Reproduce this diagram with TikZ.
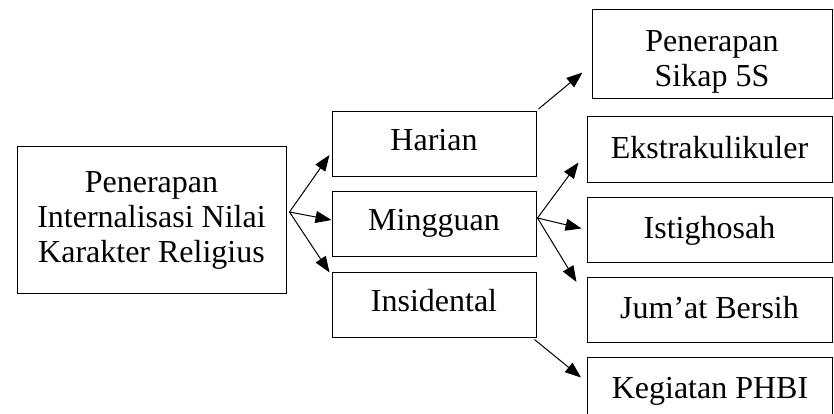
\documentclass[tikz,border=0pt]{standalone}
\usepackage{fontspec}
\setmainfont{Liberation Serif}
\usepackage{tikz}
\usetikzlibrary{arrows.meta}

\tikzset{
  kotak/.style={draw, line width=1pt, inner sep=0pt, font=\fontsize{32}{35}\selectfont},
  kiri/.style={kotak, minimum width=204pt, text height=39pt, text depth=26pt},
  kanan/.style={kotak, minimum width=245pt, text height=41pt, text depth=24pt},
  panah/.style={line width=1pt, -{Triangle[length=16pt, width=12pt]}}
}

\begin{document}
\begin{tikzpicture}[x=1pt, y=-1pt]
\useasboundingbox (0,0) rectangle (834,414);
% akar
\node [kotak, minimum width=269pt, minimum height=146pt, align=center] (utama) at (151.5,220)
  {Penerapan\\Internalisasi Nilai\\Karakter Religius};
% cabang tengah
\node [kiri] (harian) at (434,144) {Harian};
\node [kiri] (mingguan) at (434,224) {Mingguan};
\node [kiri] (insidental) at (434,304.5) {Insidental};
% cabang kanan
\node [kotak, minimum width=240pt, align=center, text height=77pt, text depth=12pt] (sikap) at (712,54.5)
  {Penerapan\\Sikap 5S};
\node [kanan] (ekstra) at (709.5,149.5) {Ekstrakulikuler};
\node [kanan] (istighosah) at (709.5,229.5) {Istighosah};
\node [kanan] (jumat) at (709.5,310) {Jum'at Bersih};
\node [kanan] (phbi) at (710,389.5) {Kegiatan PHBI};

\coordinate (pangkal) at ([xshift=3pt,yshift=8pt]utama.east);
\draw [panah] (pangkal) -- ([xshift=-2pt,yshift=-11pt]harian.west);
\draw [panah] (pangkal) -- ([yshift=4pt]mingguan.west);
\draw [panah] (pangkal) -- ([xshift=-2pt,yshift=-1pt]insidental.north west);

\draw [panah] ([xshift=2pt,yshift=2pt]harian.north east) -- ([xshift=-9pt,yshift=-18pt]sikap.west);

\coordinate (pangkal2) at ([xshift=1pt,yshift=6pt]mingguan.east);
\draw [panah] (pangkal2) -- ([xshift=-8pt,yshift=20pt]ekstra.south west);
\draw [panah] (pangkal2) -- ([xshift=-5pt,yshift=1pt]istighosah.west);
\draw [panah] (pangkal2) -- ([xshift=-10pt,yshift=-5pt]jumat.north west);

\draw [panah] ([xshift=-2pt,yshift=-2pt]insidental.south east) -- ([xshift=-6pt,yshift=-21pt]phbi.north west);
\end{tikzpicture}
\end{document}
